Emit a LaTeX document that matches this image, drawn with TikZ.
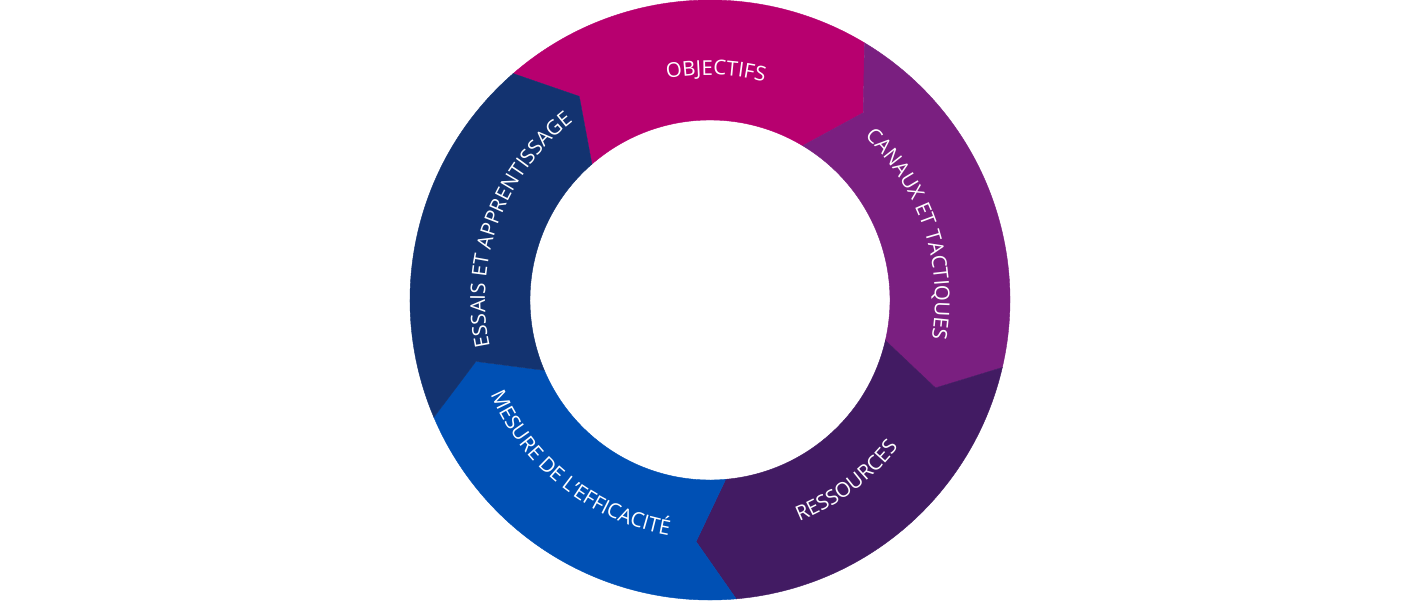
\documentclass[tikz,border=0pt]{standalone}
\usepackage{fontspec}
\setmainfont{Open Sans}
\usetikzlibrary{decorations.text}
\definecolor{cObj}{HTML}{B7006F}
\definecolor{cCan}{HTML}{7A1F80}
\definecolor{cRes}{HTML}{421B63}
\definecolor{cMes}{HTML}{0050B4}
\definecolor{cEss}{HTML}{133370}
\newcommand\ringseg[2]{%
  \fill[#2, draw=#2, line width=0.4pt, line join=miter]
    (#1:300pt) arc[start angle=#1, end angle={#1-72}, radius=300pt]
    -- ({#1-80.3}:242pt) -- ({#1-72}:180pt)
    arc[start angle={#1-72}, end angle=#1, radius=180pt]
    -- ({#1-8.3}:242pt) -- cycle;}
\newcommand\toptext[2]{% #1 centre angle, #2 text (clockwise, tops outward)
  \path[decorate, decoration={text along path, text color=white,
      text={|\fontsize{20.5pt}{20.5pt}\selectfont|#2}, text align=center}]
    ({#1+70}:225pt) arc[start angle={#1+70}, end angle={#1-70}, radius=225pt];}
\newcommand\bottext[2]{% #1 centre angle, #2 text (counterclockwise, tops inward)
  \path[decorate, decoration={text along path, text color=white,
      text={|\fontsize{20.5pt}{20.5pt}\selectfont|#2}, text align=center}]
    ({#1-70}:239pt) arc[start angle={#1-70}, end angle={#1+70}, radius=239pt];}
\begin{document}
\begin{tikzpicture}
\useasboundingbox (-710pt,-300pt) rectangle (710pt,300pt);
\ringseg{131}{cObj}
\ringseg{59}{cCan}
\ringseg{-13}{cRes}
\ringseg{-85}{cMes}
\ringseg{-157}{cEss}
\toptext{88.5}{OBJECTIFS}
\toptext{18.3}{CANAUX ET TACTIQUES}
\toptext{159.7}{ESSAIS ET APPRENTISSAGE}
\bottext{-53}{RESSOURCES}
\bottext{-128.3}{MESURE DE L’EFFICACITÉ}
\end{tikzpicture}
\end{document}
